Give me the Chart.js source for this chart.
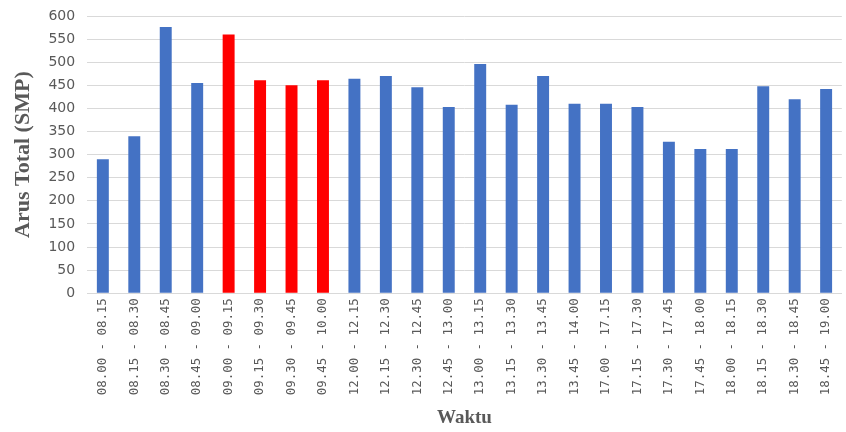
<!DOCTYPE html>
<html>
<head>
<meta charset="utf-8">
<script src="https://cdn.jsdelivr.net/npm/chart.js@4"></script>
<style>
  html, body { margin: 0; padding: 0; background: #fff; }
  #chart { display: block; }
</style>
</head>
<body>
<canvas id="chart" width="846" height="432"></canvas>
<script>
// interval labels (15-minute periods)
const waktu = [
  '08.00 - 08.15', '08.15 - 08.30', '08.30 - 08.45', '08.45 - 09.00',
  '09.00 - 09.15', '09.15 - 09.30', '09.30 - 09.45', '09.45 - 10.00',
  '12.00 - 12.15', '12.15 - 12.30', '12.30 - 12.45', '12.45 - 13.00',
  '13.00 - 13.15', '13.15 - 13.30', '13.30 - 13.45', '13.45 - 14.00',
  '17.00 - 17.15', '17.15 - 17.30', '17.30 - 17.45', '17.45 - 18.00',
  '18.00 - 18.15', '18.15 - 18.30', '18.30 - 18.45', '18.45 - 19.00'
];

// total flow per interval (SMP)
const arusTotal = [
  290, 340, 576, 455,
  560, 461, 450, 461,
  464, 470, 446, 403,
  496, 408, 470, 410,
  410, 403, 328, 312,
  312, 448, 420, 442
];

// peak hour intervals drawn in red
const jamPuncak = ['09.00 - 09.15', '09.15 - 09.30', '09.30 - 09.45', '09.45 - 10.00'];

const yMin = 0;
const yMax = 600;
const yStep = 50;

const BLUE = '#4472C4';
const RED = '#FF0000';
const GREY = '#595959';

const barColors = waktu.map(w => jamPuncak.includes(w) ? RED : BLUE);

const ctx = document.getElementById('chart').getContext('2d');
new Chart(ctx, {
  type: 'bar',
  data: {
    labels: waktu,
    datasets: [{
      label: 'Arus Total (SMP)',
      data: arusTotal,
      backgroundColor: barColors,
      borderWidth: 0,
      barPercentage: 0.38,
      categoryPercentage: 1.0
    }]
  },
  options: {
    responsive: false,
    animation: false,
    layout: {
      padding: { top: 0, right: 0, bottom: 3, left: 10 }
    },
    plugins: {
      legend: { display: false },
      tooltip: { enabled: false }
    },
    scales: {
      x: {
        grid: { display: false, drawTicks: false },
        border: { display: true, color: '#d9d9d9', width: 1 },
        ticks: {
          color: GREY,
          font: { family: 'DejaVu Sans Mono', size: 12.4 },
          minRotation: 90,
          maxRotation: 90,
          autoSkip: false,
          padding: 5
        },
        title: {
          display: true,
          text: 'Waktu',
          color: GREY,
          font: { family: 'Liberation Serif', size: 19, weight: 'bold' },
          padding: { top: 6, bottom: 0 }
        }
      },
      y: {
        min: yMin,
        max: yMax,
        // tick padding would otherwise push the plot top down
        afterFit: (scale) => { scale.paddingTop = 16; },
        grid: { color: '#d9d9d9', drawTicks: false },
        border: { display: false },
        ticks: {
          stepSize: yStep,
          color: GREY,
          font: { family: 'DejaVu Sans', size: 14 },
          padding: 12
        },
        title: {
          display: true,
          text: 'Arus Total (SMP)',
          color: GREY,
          font: { family: 'Liberation Serif', size: 22, weight: 'bold' },
          padding: { top: 0, bottom: 0 }
        }
      }
    }
  }
});
</script>
</body>
</html>
